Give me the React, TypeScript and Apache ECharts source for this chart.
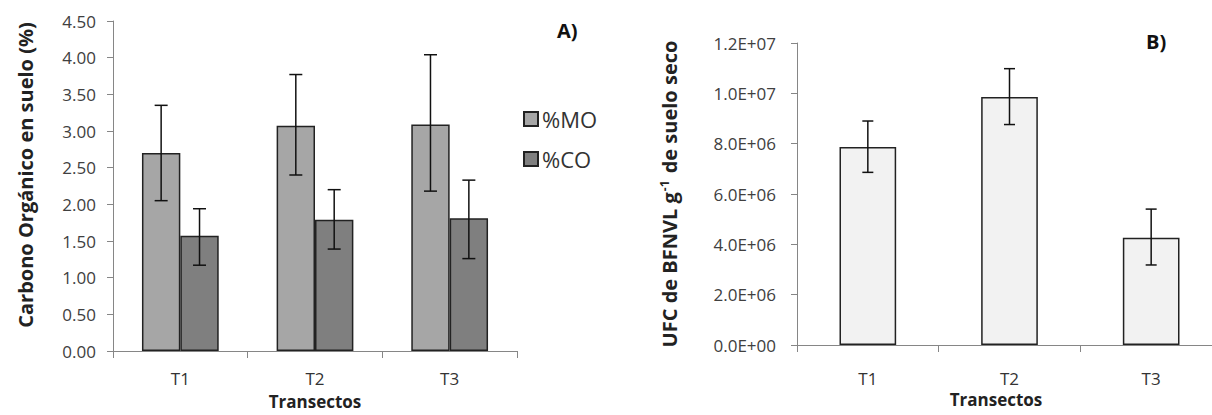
import React, { useEffect, useRef } from "react";
import * as echarts from "echarts";

const categories = ["T1", "T2", "T3"];
const moValues = [2.7, 3.07, 3.09];
const moLow = [2.05, 2.4, 2.18];
const moHigh = [3.35, 3.77, 4.04];
const coValues = [1.57, 1.79, 1.81];
const coLow = [1.17, 1.39, 1.26];
const coHigh = [1.94, 2.2, 2.33];

const ufcValues = [7.87e6, 9.85e6, 4.26e6];
const ufcLow = [6.86e6, 8.76e6, 3.18e6];
const ufcHigh = [8.9e6, 1.098e7, 5.4e6];

const FONT = "Open Sans";
const GAP_A = 0.43;
const GAP_B = 0.6;

function sciFmt(v: number): string {
  if (v === 0) return "0.0E+00";
  const e = Math.floor(Math.log10(v) + 1e-9);
  const m = v / Math.pow(10, e);
  return m.toFixed(1) + "E+" + String(e).padStart(2, "0");
}

function errorSeries(
  name: string,
  xi: number,
  yi: number,
  low: number[],
  high: number[],
  gap: number,
  nBars: number,
  barIndex: number,
  cap: number
) {
  return {
    type: "custom",
    name,
    xAxisIndex: xi,
    yAxisIndex: yi,
    z: 10,
    data: categories.map((c, i) => [i, low[i], high[i]]),
    renderItem: (params: any, api: any) => {
      const idx = api.value(0);
      const band = api.size([1, 0])[0];
      const bw = (band * (1 - gap)) / nBars;
      const off = -((nBars * bw) / 2) + bw * (barIndex + 0.5);
      const pLow = api.coord([idx, api.value(1)]);
      const pHigh = api.coord([idx, api.value(2)]);
      const x = pLow[0] + off;
      const style = { stroke: "#111", lineWidth: 1.5 };
      return {
        type: "group",
        children: [
          { type: "line", shape: { x1: x, y1: pLow[1], x2: x, y2: pHigh[1] }, style },
          { type: "line", shape: { x1: x - cap / 2, y1: pHigh[1], x2: x + cap / 2, y2: pHigh[1] }, style },
          { type: "line", shape: { x1: x - cap / 2, y1: pLow[1], x2: x + cap / 2, y2: pLow[1] }, style },
        ],
      };
    },
    silent: true,
  };
}

export default function App() {
  const ref = useRef<HTMLDivElement>(null);
  useEffect(() => {
    document.body.style.margin = "0";
    const chart = echarts.init(ref.current!, null, { renderer: "svg" });
    const axisLine = { show: true, lineStyle: { color: "#868686", width: 1 } };
    const option: any = {
      animation: false,
      backgroundColor: "#ffffff",
      textStyle: { fontFamily: FONT },
      legend: {
        orient: "vertical",
        left: 523,
        top: 108,
        padding: 0,
        itemWidth: 14,
        itemHeight: 14,
        itemGap: 18,
        icon: "rect",
        data: ["%MO", "%CO"],
        textStyle: { fontFamily: FONT, fontSize: 22, color: "#333", padding: [0, 0, 0, -1] },
      },
      grid: [
        { left: 113, right: 1212 - 517, top: 21, bottom: 415 - 351, outerBoundsMode: "none", containLabel: false },
        { left: 797, right: -10, top: 43, bottom: 415 - 345, outerBoundsMode: "none", containLabel: false },
      ],
      xAxis: [
        {
          type: "category",
          gridIndex: 0,
          data: categories,
          axisLine,
          axisTick: { show: true, length: 7, lineStyle: { color: "#868686" } },
          axisLabel: { fontFamily: FONT, fontSize: 17, lineHeight: 18, color: "#333", margin: 18 },
          name: "Transectos",
          nameLocation: "middle",
          nameGap: 38,
          nameTextStyle: { fontFamily: FONT, fontWeight: "bold", fontSize: 17, lineHeight: 20, color: "#222" },
        },
        {
          type: "category",
          gridIndex: 1,
          data: categories,
          axisLine,
          axisTick: { show: true, length: 7, lineStyle: { color: "#868686" } },
          axisLabel: { fontFamily: FONT, fontSize: 17, lineHeight: 18, color: "#333", margin: 24 },
        },
      ],
      yAxis: [
        {
          type: "value",
          gridIndex: 0,
          min: 0,
          max: 4.5,
          interval: 0.5,
          axisLine,
          axisTick: { show: true, length: 6, lineStyle: { color: "#868686" } },
          splitLine: { show: false },
          axisLabel: {
            fontFamily: FONT,
            fontSize: 17,
            color: "#404040",
            margin: 17,
            formatter: (v: number) => v.toFixed(2),
          },
          name: "Carbono Orgánico en suelo (%)",
          nameLocation: "middle",
          nameRotate: 90,
          nameGap: 78,
          nameTextStyle: { fontFamily: FONT, fontWeight: "bold", fontSize: 20, color: "#222", padding: [0, 0, 0, 22] },
        },
        {
          type: "value",
          gridIndex: 1,
          min: 0,
          max: 1.2e7,
          interval: 2e6,
          axisLine,
          axisTick: { show: true, length: 6, lineStyle: { color: "#868686" } },
          splitLine: { show: false },
          axisLabel: {
            fontFamily: FONT,
            fontSize: 17,
            color: "#404040",
            margin: 21,
            formatter: (v: number) => sciFmt(v),
          },
          name: "UFC de BFNVL g{sup|-1} de suelo seco",
          nameLocation: "middle",
          nameRotate: 90,
          nameGap: 117,
          nameTextStyle: {
            fontFamily: FONT,
            fontWeight: "bold",
            fontSize: 20,
            color: "#222",
            rich: {
              sup: { fontFamily: FONT, fontWeight: "bold", fontSize: 12, color: "#222", verticalAlign: "top", padding: [0, 2, 10, 1] },
            },
          },
        },
      ],
      graphic: [
        { type: "text", left: 557, top: 20, style: { text: "A)", font: "bold 20px 'Open Sans'", fill: "#111" } },
        { type: "text", left: 1146, top: 31, style: { text: "B)", font: "bold 20px 'Open Sans'", fill: "#111" } },
        {
          type: "text",
          x: 996,
          y: 389,
          style: { text: "Transectos", font: "bold 17px 'Open Sans'", lineHeight: 20, fill: "#222", align: "center" },
        },
      ],
      series: [
        {
          type: "bar",
          name: "%MO",
          xAxisIndex: 0,
          yAxisIndex: 0,
          data: moValues,
          barGap: "0%",
          barCategoryGap: GAP_A * 100 + "%",
          itemStyle: { color: "#a6a6a6", borderColor: "#222", borderWidth: 1.5 },
        },
        {
          type: "bar",
          name: "%CO",
          xAxisIndex: 0,
          yAxisIndex: 0,
          data: coValues,
          barGap: "0%",
          barCategoryGap: GAP_A * 100 + "%",
          itemStyle: { color: "#7f7f7f", borderColor: "#222", borderWidth: 1.5 },
        },
        {
          type: "bar",
          name: "UFC",
          xAxisIndex: 1,
          yAxisIndex: 1,
          data: ufcValues,
          barCategoryGap: GAP_B * 100 + "%",
          itemStyle: { color: "#f2f2f2", borderColor: "#222", borderWidth: 1.5 },
        },
        errorSeries("errMO", 0, 0, moLow, moHigh, GAP_A, 2, 0, 13),
        errorSeries("errCO", 0, 0, coLow, coHigh, GAP_A, 2, 1, 13),
        errorSeries("errUFC", 1, 1, ufcLow, ufcHigh, GAP_B, 1, 0, 11),
      ],
    };
    chart.setOption(option);
    return () => chart.dispose();
  }, []);
  return (
    <div
      ref={ref}
      style={{ position: "fixed", left: 0, top: 0, width: 1212, height: 415, background: "#fff" }}
    />
  );
}
